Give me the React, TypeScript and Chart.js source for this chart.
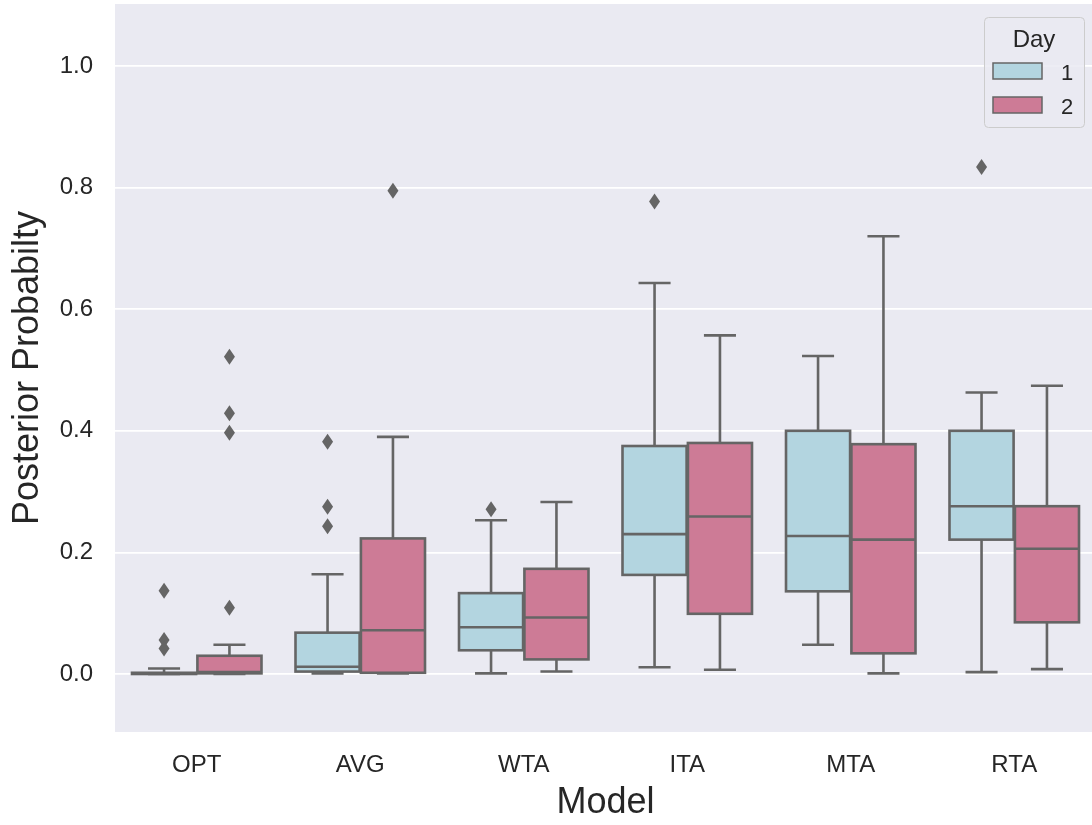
import { useEffect, useRef } from "react";
import { Chart, registerables } from "chart.js";

Chart.register(...registerables);

const categories = ["OPT", "AVG", "WTA", "ITA", "MTA", "RTA"];
const dayLabels = ["1", "2"];
const yTicks = [0, 0.2, 0.4, 0.6, 0.8, 1.0];

const day1Q1 = [0.0, 0.004, 0.039, 0.163, 0.136, 0.221];
const day1Median = [0.001, 0.012, 0.077, 0.23, 0.227, 0.276];
const day1Q3 = [0.002, 0.068, 0.133, 0.375, 0.4, 0.4];
const day1WhiskerLow = [0.0, 0.001, 0.001, 0.011, 0.048, 0.003];
const day1WhiskerHigh = [0.009, 0.164, 0.253, 0.643, 0.523, 0.463];
const day1Outliers = [[0.137, 0.056, 0.042], [0.382, 0.275, 0.243], [0.271], [0.777], [], [0.834]];

const day2Q1 = [0.001, 0.002, 0.024, 0.099, 0.034, 0.085];
const day2Median = [0.003, 0.072, 0.093, 0.259, 0.221, 0.206];
const day2Q3 = [0.03, 0.223, 0.173, 0.38, 0.378, 0.276];
const day2WhiskerLow = [0.0, 0.001, 0.004, 0.007, 0.001, 0.008];
const day2WhiskerHigh = [0.048, 0.39, 0.283, 0.557, 0.72, 0.474];
const day2Outliers = [[0.522, 0.429, 0.397, 0.109], [0.795], [], [], [], []];

const BG = "#eaeaf2";
const LINE = "#656565";
const TEXT = "#262626";
const FONT = "'Liberation Sans', Arial, sans-serif";
const dayColors = ["#b3d5e0", "#cd7b96"];

const stats = [
  { q1: day1Q1, med: day1Median, q3: day1Q3, lo: day1WhiskerLow, hi: day1WhiskerHigh, out: day1Outliers },
  { q1: day2Q1, med: day2Median, q3: day2Q3, lo: day2WhiskerLow, hi: day2WhiskerHigh, out: day2Outliers },
];

const boxPlugin = {
  id: "boxPlugin",
  beforeDraw(chart: any) {
    const { ctx, chartArea } = chart;
    ctx.save();
    ctx.fillStyle = BG;
    ctx.fillRect(chartArea.left, chartArea.top, chartArea.right - chartArea.left, chartArea.bottom - chartArea.top);
    ctx.restore();
  },
  afterDatasetsDraw(chart: any) {
    const { ctx } = chart;
    const y = chart.scales.y;
    ctx.save();
    ctx.strokeStyle = LINE;
    ctx.fillStyle = LINE;
    ctx.lineWidth = 2.6;
    ctx.lineJoin = "miter";
    ctx.lineCap = "butt";
    for (let d = 0; d < stats.length; d++) {
      const meta = chart.getDatasetMeta(d);
      const s = stats[d];
      meta.data.forEach((el: any, i: number) => {
        const { x, width } = el.getProps(["x", "width"], true);
        const hw = width / 2;
        const pq1 = y.getPixelForValue(s.q1[i]);
        const pq3 = y.getPixelForValue(s.q3[i]);
        const pmed = y.getPixelForValue(s.med[i]);
        const plo = y.getPixelForValue(s.lo[i]);
        const phi = y.getPixelForValue(s.hi[i]);
        ctx.strokeRect(x - hw, pq3, width, pq1 - pq3);
        ctx.beginPath();
        ctx.moveTo(x - hw, pmed);
        ctx.lineTo(x + hw, pmed);
        ctx.stroke();
        ctx.beginPath();
        ctx.moveTo(x, pq3);
        ctx.lineTo(x, phi);
        ctx.moveTo(x, pq1);
        ctx.lineTo(x, plo);
        ctx.stroke();
        const cw = width / 4;
        ctx.beginPath();
        ctx.moveTo(x - cw, phi);
        ctx.lineTo(x + cw, phi);
        ctx.moveTo(x - cw, plo);
        ctx.lineTo(x + cw, plo);
        ctx.stroke();
        for (const v of s.out[i]) {
          const py = y.getPixelForValue(v);
          ctx.beginPath();
          ctx.moveTo(x, py - 8);
          ctx.lineTo(x + 5.5, py);
          ctx.lineTo(x, py + 8);
          ctx.lineTo(x - 5.5, py);
          ctx.closePath();
          ctx.fill();
        }
      });
    }
    ctx.restore();
  },
  afterDraw(chart: any) {
    const { ctx, chartArea } = chart;
    const lw = 100;
    const lh = 110;
    const lx = chartArea.right - 12 - lw;
    const ly = chartArea.top + 13;
    ctx.save();
    ctx.beginPath();
    (ctx as any).roundRect(lx + 0.5, ly + 0.5, lw, lh, 4);
    ctx.fillStyle = "rgba(234,234,242,0.85)";
    ctx.fill();
    ctx.strokeStyle = "#cccccc";
    ctx.lineWidth = 1;
    ctx.stroke();
    ctx.fillStyle = TEXT;
    ctx.font = `24px ${FONT}`;
    ctx.textAlign = "center";
    ctx.textBaseline = "alphabetic";
    ctx.fillText("Day", lx + lw / 2, ly + 30);
    ctx.font = `22px ${FONT}`;
    ctx.textAlign = "left";
    dayLabels.forEach((lab, k) => {
      const py = ly + 46 + k * 34;
      ctx.fillStyle = dayColors[k];
      ctx.fillRect(lx + 9, py, 49, 16);
      ctx.strokeStyle = LINE;
      ctx.lineWidth = 1.5;
      ctx.strokeRect(lx + 9, py, 49, 16);
      ctx.fillStyle = TEXT;
      ctx.fillText(lab, lx + 77, py + 17);
    });
    ctx.restore();
  },
};

export default function App() {
  const ref = useRef<HTMLCanvasElement | null>(null);
  useEffect(() => {
    document.body.style.margin = "0";
    const canvas = ref.current;
    if (!canvas) return;
    const chart = new Chart(canvas, {
      type: "bar",
      data: {
        labels: categories,
        datasets: stats.map((s, d) => ({
          label: dayLabels[d],
          data: s.q1.map((v, i) => [v, s.q3[i]]),
          backgroundColor: dayColors[d],
          borderWidth: 0,
          barPercentage: 0.98,
          categoryPercentage: 0.8,
        })),
      },
      options: {
        animation: false,
        responsive: false,
        maintainAspectRatio: false,
        layout: { padding: { top: 4, left: 0, right: 0, bottom: 0 } },
        plugins: { legend: { display: false }, tooltip: { enabled: false } },
        scales: {
          x: {
            type: "category",
            grid: { display: false, drawTicks: false },
            border: { display: false },
            ticks: { color: TEXT, font: { family: FONT, size: 24 }, padding: 19 },
            title: { display: true, text: "Model", color: TEXT, font: { family: FONT, size: 36 }, padding: { top: 0, bottom: 0 } },
            afterFit: (scale: any) => {
              scale.height = 93;
              scale.paddingLeft = 0;
              scale.paddingRight = 0;
              scale.paddingTop = 0;
              scale.paddingBottom = 0;
            },
          },
          y: {
            type: "linear",
            min: -0.0954,
            max: 1.102,
            grid: { color: "#ffffff", lineWidth: 1.8, drawTicks: false },
            border: { display: false },
            afterBuildTicks: (scale: any) => {
              scale.ticks = yTicks.map((v) => ({ value: v }));
            },
            ticks: {
              color: TEXT,
              font: { family: FONT, size: 24 },
              padding: 22,
              callback: (v: any) => Number(v).toFixed(1),
            },
            title: { display: true, text: "Posterior Probabilty", color: TEXT, font: { family: FONT, size: 36 }, padding: { top: 6, bottom: 0 } },
            afterFit: (scale: any) => {
              scale.width = 115;
              scale.paddingTop = 0;
              scale.paddingBottom = 0;
              scale.paddingLeft = 0;
              scale.paddingRight = 0;
            },
          },
        },
      },
      plugins: [boxPlugin],
    });
    return () => chart.destroy();
  }, []);
  return (
    <div style={{ width: 1092, height: 825, overflow: "hidden", position: "relative" }}>
      <canvas ref={ref} width={1096} height={825} style={{ display: "block", width: 1096, height: 825 }} />
    </div>
  );
}
